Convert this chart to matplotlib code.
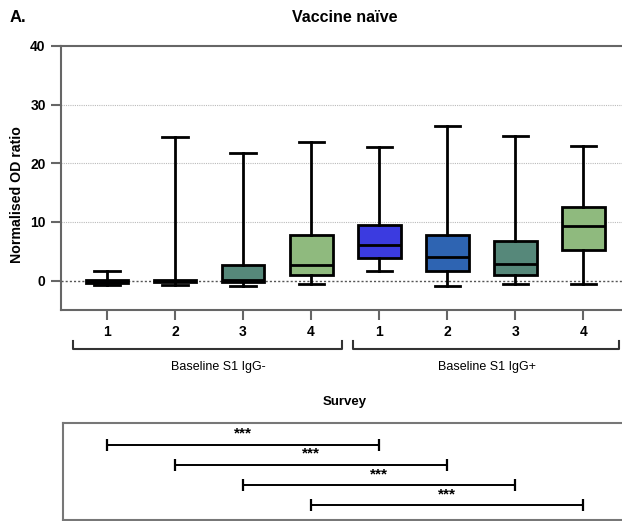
import matplotlib
matplotlib.use("Agg")
import matplotlib.pyplot as plt
from matplotlib.lines import Line2D

plt.rcParams['font.family'] = ['Liberation Sans', 'DejaVu Sans']

# Five-number summaries per group: (whisker low, Q1, median, Q3, whisker high)
groups = ["1", "2", "3", "4", "1", "2", "3", "4"]
whisker_low = [-0.8, -0.7, -0.85, -0.5, 1.65, -0.85, -0.6, -0.6]
q1 = [-0.4, -0.3, -0.2, 1.0, 3.9, 1.65, 1.0, 5.3]
median = [-0.15, 0.0, 0.1, 2.7, 6.1, 4.1, 2.8, 9.25]
q3 = [0.15, 0.1, 2.6, 7.8, 9.5, 7.8, 6.7, 12.6]
whisker_high = [1.7, 24.5, 21.7, 23.6, 22.8, 26.4, 24.6, 23.0]
box_colors = ["#3B3BE0", "#2E64B2", "#56887A", "#8FBA7E",
              "#3B3BE0", "#2E64B2", "#56887A", "#8FBA7E"]

baseline_labels = ["Baseline S1 IgG-", "Baseline S1 IgG+"]
survey_pairs = [(1, 5), (2, 6), (3, 7), (4, 8)]
survey_marks = ["***", "***", "***", "***"]

W, H = 622, 521
fig = plt.figure(figsize=(W / 100, H / 100), dpi=100)

# pixel -> figure fraction helpers
def fx(px):
    return px / W

def fy(py):
    return 1 - py / H

# Main box plot axes
ax = fig.add_axes([fx(61), fy(310), fx(622) - fx(61), fy(46) - fy(310)])
positions = list(range(1, len(groups) + 1))
stats = []
for i in range(len(groups)):
    stats.append(dict(whislo=whisker_low[i], q1=q1[i], med=median[i],
                      q3=q3[i], whishi=whisker_high[i], fliers=[]))
bp = ax.bxp(stats, positions=positions, widths=0.63, patch_artist=True,
            showfliers=False,
            boxprops=dict(linewidth=2.0, edgecolor="black"),
            medianprops=dict(color="black", linewidth=2.0),
            whiskerprops=dict(color="black", linewidth=2.0),
            capprops=dict(color="black", linewidth=2.0),
            capwidths=0.37, zorder=3)
for patch, c in zip(bp["boxes"], box_colors):
    patch.set_facecolor(c)

ax.set_xlim(0.324, 8.57)
ax.set_ylim(-5, 40)
ax.set_yticks([0, 10, 20, 30, 40])
ax.set_xticks(positions)
ax.set_xticklabels(groups)
for y in (10, 20, 30):
    ax.axhline(y, color="#bbbbbb", linestyle=(0, (1, 1)), linewidth=0.8, zorder=1)
ax.axhline(0, color="#555555", linestyle=(0, (1.5, 1.5)), linewidth=1.0, zorder=1)

for side in ("left", "top", "bottom"):
    ax.spines[side].set_color("#666666")
    ax.spines[side].set_linewidth(1.5)
ax.spines["right"].set_visible(False)
ax.tick_params(axis="both", length=7, width=1.5, color="#666666",
               labelsize=10, pad=4)
for lab in ax.get_xticklabels() + ax.get_yticklabels():
    lab.set_fontweight("bold")

fig.text(fx(16.7), fy(195), "Normalised OD ratio", rotation=90,
         ha="center", va="center", fontsize=10.2, fontweight="bold")
fig.text(fx(345), fy(18), "Vaccine naïve", ha="center", va="center",
         fontsize=11.5, fontweight="bold")
fig.text(fx(10), fy(18), "A.", ha="left", va="center",
         fontsize=12, fontweight="bold")

# Group brackets below the axis
brackets = [(72.7, 342), (353.3, 619)]
label_x = [218, 486.7]
for (x0, x1), lx, text in zip(brackets, label_x, baseline_labels):
    fig.add_artist(Line2D([fx(x0), fx(x0), fx(x1), fx(x1)],
                          [fy(340.5), fy(349.3), fy(349.3), fy(340.5)],
                          color="#333333", linewidth=1.5))
    fig.text(fx(lx), fy(367), text, ha="center", va="center", fontsize=9)

fig.text(fx(345), fy(402), "Survey", ha="center", va="center",
         fontsize=9.5, fontweight="bold")

# Survey comparison panel
sax = fig.add_axes([fx(63), fy(520), fx(622) - fx(63), fy(423) - fy(520)])
sax.set_xlim(0.353, 8.57)
sax.set_ylim(4.73, -0.095)
sax.set_xticks([])
sax.set_yticks([])
for side in ("left", "top", "bottom"):
    sax.spines[side].set_color("#777777")
    sax.spines[side].set_linewidth(1.5)
sax.spines["right"].set_visible(False)
for row, ((a, b), mark) in enumerate(zip(survey_pairs, survey_marks), start=1):
    sax.plot([a, b], [row, row], color="black", linewidth=1.4,
             marker="|", markersize=9, markeredgewidth=1.6)
    sax.annotate(mark, xy=((a + b) / 2, row), xytext=(0, 3),
                 textcoords="offset points", ha="center", va="bottom",
                 fontsize=11, fontweight="bold")

fig.savefig("out.png", dpi=100)
